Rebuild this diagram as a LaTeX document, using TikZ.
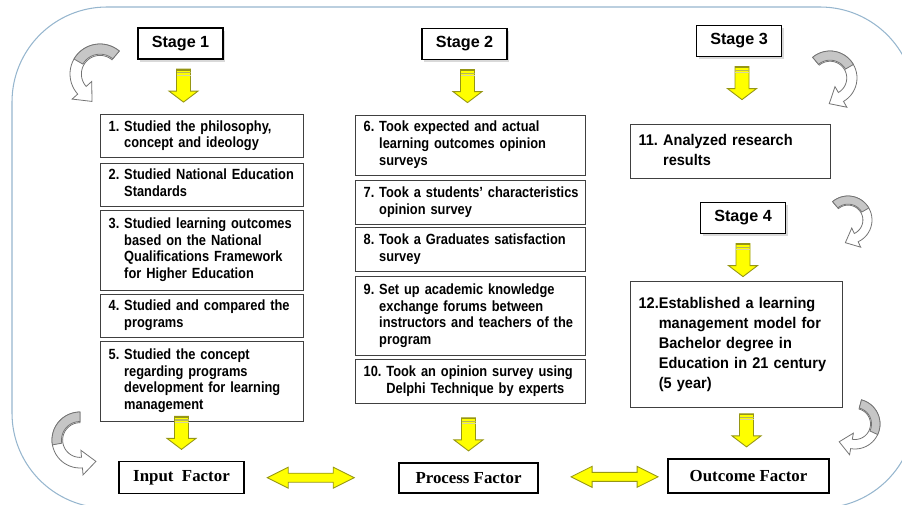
\documentclass[tikz,border=0pt]{standalone}
\usepackage{fontspec}
\setmainfont{Liberation Sans}
\newfontfamily\itemfont[FakeStretch=0.87]{Liberation Sans}
\newfontfamily\resultfont[FakeStretch=0.94]{Liberation Sans}
\newfontfamily\factorfont{Liberation Serif}
\usepackage{tikz}
\usetikzlibrary{calc,shadows}

\newlength\px
\setlength\px{0.02cm}
\definecolor{framecol}{RGB}{150,182,206}
\definecolor{yel}{RGB}{255,255,0}
\definecolor{yeledge}{RGB}{150,150,20}
\newcommand\stepitem[3][\ ]{\begin{tabular}[t]{@{}l@{#1}l@{}}#2&#3\end{tabular}}

\tikzset{
  stagebox/.style={draw, line width=0.7pt, fill=white, minimum width=85\px, minimum height=31\px,
    font=\fontsize{9.2}{11}\selectfont\bfseries,
    drop shadow={shadow xshift=1.2pt, shadow yshift=-1.5pt, opacity=0.3}},
  itembox/.style 2 args={draw=black!75, line width=0.7pt, anchor=north west, inner xsep=8\px, inner ysep=0pt,
    text width=#1\px, minimum height=#2\px, align=left,
    font=\itemfont\fontsize{8.4}{9.5}\selectfont\bfseries},
  resultbox/.style 2 args={itembox={#1}{#2}, font=\resultfont\fontsize{8.8}{11.3}\selectfont\bfseries},
  factorbox/.style={draw, line width=0.7pt, fill=white, inner sep=0pt,
    font=\factorfont\fontsize{9.6}{11}\selectfont\bfseries},
  turnline/.style={draw=black!55, line width=0.45pt},
  ydown/.pic={
    \draw[fill=yel, draw=yeledge, line width=0.5pt] (-7,-16.5) -- (7,-16.5) -- (7,5.5) -- (14.5,5.5)
      -- (0,16.5) -- (-14.5,5.5) -- (-7,5.5) -- cycle;
    \fill[yeledge] (-7,-16.5) rectangle (7,-15);
    \fill[yeledge!70] (-7,-13.5) rectangle (7,-12.3);
    \fill[yeledge!40] (-7,-11) rectangle (7,-10);
  },
  ydouble/.pic={
    \draw[fill=yel, draw=yeledge, line width=0.5pt] (-43.5,0) -- (-22.5,-10.5) -- (-22.5,-4.5)
      -- (22.5,-4.5) -- (22.5,-10.5) -- (43.5,0) -- (22.5,10.5) -- (22.5,4.5)
      -- (-22.5,4.5) -- (-22.5,10.5) -- cycle;
  },
  grayturn/.pic={
    \pgfmathsetmacro\tipx{0.81*cos(#1)+0.5*cos(#1+90)}
    \pgfmathsetmacro\tipy{0.81*sin(#1)+0.5*sin(#1+90)}
    \draw[turnline, fill=white] plot[domain=50:#1, samples=30] (\x:1)
      -- (#1:1.25) -- (\tipx,\tipy) -- (#1:0.37) -- (#1:0.62)
      -- plot[domain=#1:50, samples=30] (\x:0.62) -- cycle;
    \draw[turnline, fill=gray!45] plot[domain=50:150, samples=20] (\x:1)
      -- plot[domain=150:50, samples=20] (\x:0.66) -- cycle;
  }
}

\begin{document}
\begin{tikzpicture}[x=0.02cm, y=-0.02cm]
  \useasboundingbox (0,0) rectangle (902,504);
  \clip (0,0) rectangle (902,504);
  \draw[framecol, line width=0.6pt, rounded corners=1.9cm] (12,7) rectangle (915,508);

  % stages
  \node[stagebox] (stage1) at (180.5,43.5) {Stage 1};
  \node[stagebox] (stage2) at (464.5,44) {Stage 2};
  \node[stagebox] (stage3) at (739,41) {Stage 3};
  \node[stagebox] (stage4) at (743,218) {Stage 4};

  % stage 1 steps
  \node[itembox={187}{43}] (s1) at (100,114) {\stepitem{1.}{Studied the philosophy,\\ & concept and ideology}};
  \node[itembox={187}{43}] (s2) at (100,162.5) {\stepitem{2.}{Studied National Education\\ & Standards}};
  \node[itembox={187}{80}] (s3) at (100,209.5) {\stepitem{3.}{Studied learning outcomes\\ & based on the National\\ & Qualifications Framework\\ & for Higher Education}};
  \node[itembox={187}{43}] (s4) at (100,293.5) {\stepitem{4.}{Studied and compared the\\ & programs}};
  \node[itembox={187}{80}] (s5) at (100,340.5) {\stepitem{5.}{Studied the concept\\ & regarding programs\\ & development for learning\\ & management}};

  % stage 2 steps
  \node[itembox={214}{60}] (s6) at (355,114.5) {\stepitem{6.}{Took expected and actual\\ & learning outcomes opinion\\ & surveys}};
  \node[itembox={214}{44}] (s7) at (355,180) {\stepitem{7.}{Took a students’ characteristics\\ & opinion survey}};
  \node[itembox={214}{44}] (s8) at (355,227) {\stepitem{8.}{Took a Graduates satisfaction\\ & survey}};
  \node[itembox={214}{79}] (s9) at (355,276) {\stepitem{9.}{Set up academic knowledge\\ & exchange forums between\\ & instructors and teachers of the\\ & program}};
  \node[itembox={214}{44}] (s10) at (355,359) {\stepitem{10.}{Took an opinion survey using\\ & Delphi Technique by experts}};

  % stages 3 and 4
  \node[resultbox={184}{54}] (s11) at (630,124) {\stepitem{11.}{Analyzed research\\ & results}};
  \node[resultbox={196}{126}] (s12) at (630,281) {\stepitem[]{12.}{Established a learning\\ & management model for\\ & Bachelor degree in\\ & Education in 21 century\\ & (5 year)}};

  % factors
  \node[factorbox, minimum width=125\px, minimum height=32\px] (input) at (181.5,477.5) {Input~~Factor};
  \node[factorbox, minimum width=139\px, minimum height=30\px] (process) at (468.5,478) {Process Factor};
  \node[factorbox, minimum width=161\px, minimum height=34\px] (outcome) at (748.5,476) {Outcome Factor};

  % yellow arrows
  \pic at ($(stage1.south)+(3,26)$) {ydown};
  \pic at ($(stage2.south)+(3,26)$) {ydown};
  \pic at ($(stage3.south)+(3,26)$) {ydown};
  \pic at ($(stage4.south)+(0,26)$) {ydown};
  \pic at ($(input.north)+(0,-28)$) {ydown};
  \pic at ($(process.north)+(0,-28)$) {ydown};
  \pic at ($(outcome.north)+(-2,-28)$) {ydown};
  \pic at ($(input.east)!.43!(process.west)$) {ydouble};
  \pic at ($(process.east)!.59!(outcome.west)$) {ydouble};

  % gray turn arrows
  \pic[scale=30, yscale=-1] at (100,74) {grayturn=222};
  \pic[scale=27, yscale=-1, xscale=-1] at (830,78) {grayturn=240};
  \pic[scale=24, yscale=-1, xscale=-1] at (848,220) {grayturn=245};
  \pic[scale=28, yscale=-1, rotate=-40] at (80,440) {grayturn=235};
  \pic[scale=25, yscale=-1, xscale=-1, rotate=-55] at (855,424) {grayturn=225};
\end{tikzpicture}
\end{document}
